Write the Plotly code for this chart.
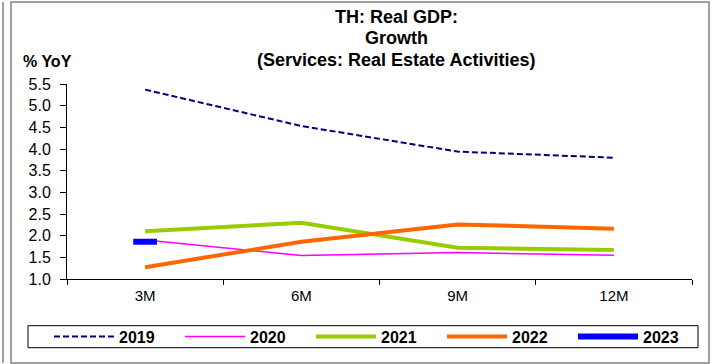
import plotly.graph_objects as go

categories = ["3M", "6M", "9M", "12M"]
y2019 = [5.37, 4.53, 3.94, 3.80]
y2020 = [1.90, 1.54, 1.61, 1.55]
y2021 = [2.10, 2.30, 1.72, 1.67]
y2022 = [1.27, 1.86, 2.26, 2.16]
y2023 = [1.86, None, None, None]
y_ticks = [1.0, 1.5, 2.0, 2.5, 3.0, 3.5, 4.0, 4.5, 5.0, 5.5]
title_lines = ["TH: Real GDP:", "Growth", "(Services: Real Estate Activities)"]

FONT = "Liberation Sans, Arial, sans-serif"

# plot area in pixels (for paper-coordinate helpers)
L, R, T, B = 67, 692, 84, 279
W, H = R - L, B - T


def px(x):
    return (x - L) / W


def py(y):
    return (B - y) / H


fig = go.Figure()
fig.add_trace(go.Scatter(x=categories, y=y2019, name="2019", mode="lines",
                         line=dict(color="#000080", width=2, dash="6px,3px")))
fig.add_trace(go.Scatter(x=categories, y=y2020, name="2020", mode="lines",
                         line=dict(color="#FF00FF", width=1.5)))
fig.add_trace(go.Scatter(x=categories, y=y2021, name="2021", mode="lines",
                         line=dict(color="#99CC00", width=4)))
fig.add_trace(go.Scatter(x=categories, y=y2022, name="2022", mode="lines",
                         line=dict(color="#FF6600", width=4)))
fig.add_trace(go.Scatter(x=categories, y=y2023, name="2023", mode="lines+markers",
                         line=dict(color="#0000FF", width=6),
                         marker=dict(symbol="line-ew", size=17,
                                     line=dict(color="#0000FF", width=6))))

title_y = [17, 38.5, 60]
annotations = [
    dict(text=f"<b>{t}</b>", xref="paper", yref="paper", x=px(396), y=py(yy),
         xanchor="center", yanchor="middle", showarrow=False,
         font=dict(size=18, family=FONT, color="black"))
    for t, yy in zip(title_lines, title_y)
]
annotations.append(
    dict(text="<b>% YoY</b>", xref="paper", yref="paper", x=px(47), y=py(62),
         xanchor="center", yanchor="middle", showarrow=False,
         font=dict(size=16, family=FONT, color="black")))

fig.update_layout(
    width=712, height=364,
    margin=dict(l=L, r=712 - R, t=T, b=364 - B, autoexpand=False),
    paper_bgcolor="white", plot_bgcolor="white",
    font=dict(family=FONT, size=15, color="black"),
    showlegend=True,
    legend=dict(orientation="h", x=px(49), y=py(336.7), xanchor="left", yanchor="middle",
                borderwidth=0, bgcolor="rgba(0,0,0,0)",
                font=dict(family=FONT, size=16, color="black", weight="bold"),
                itemwidth=60, entrywidth=56, entrywidthmode="pixels",
                tracegroupgap=0),
    xaxis=dict(type="category", range=[-0.5, 3.5], showline=True, linecolor="black",
               linewidth=1, ticks="outside", tickson="boundaries", ticklen=5,
               tickcolor="black", showgrid=False, zeroline=False,
               ticklabelstandoff=3, tickfont=dict(size=15)),
    yaxis=dict(range=[1.0, 5.5], tickvals=y_ticks, ticktext=[f"{v:.1f}" for v in y_ticks],
               showline=True, linecolor="black", linewidth=1, ticks="outside",
               ticklen=6, tickcolor="black", showgrid=False, zeroline=False,
               ticklabelstandoff=6, tickfont=dict(size=16)),
    annotations=annotations,
    shapes=[
        dict(type="rect", xref="paper", yref="paper", x0=px(11), x1=px(709),
             y0=py(363), y1=py(2), line=dict(color="#808080", width=1.5)),
        dict(type="line", xref="paper", yref="paper", x0=px(3), x1=px(3),
             y0=py(363), y1=py(2), line=dict(color="#808080", width=1.5)),
        dict(type="rect", xref="paper", yref="paper", x0=px(28), x1=px(698),
             y0=py(347.7), y1=py(325.7), line=dict(color="black", width=1)),
    ],
)

fig.write_html("out.html", config={"displayModeBar": False},
               post_script="document.body.style.margin='0';document.body.style.overflow='hidden';")
